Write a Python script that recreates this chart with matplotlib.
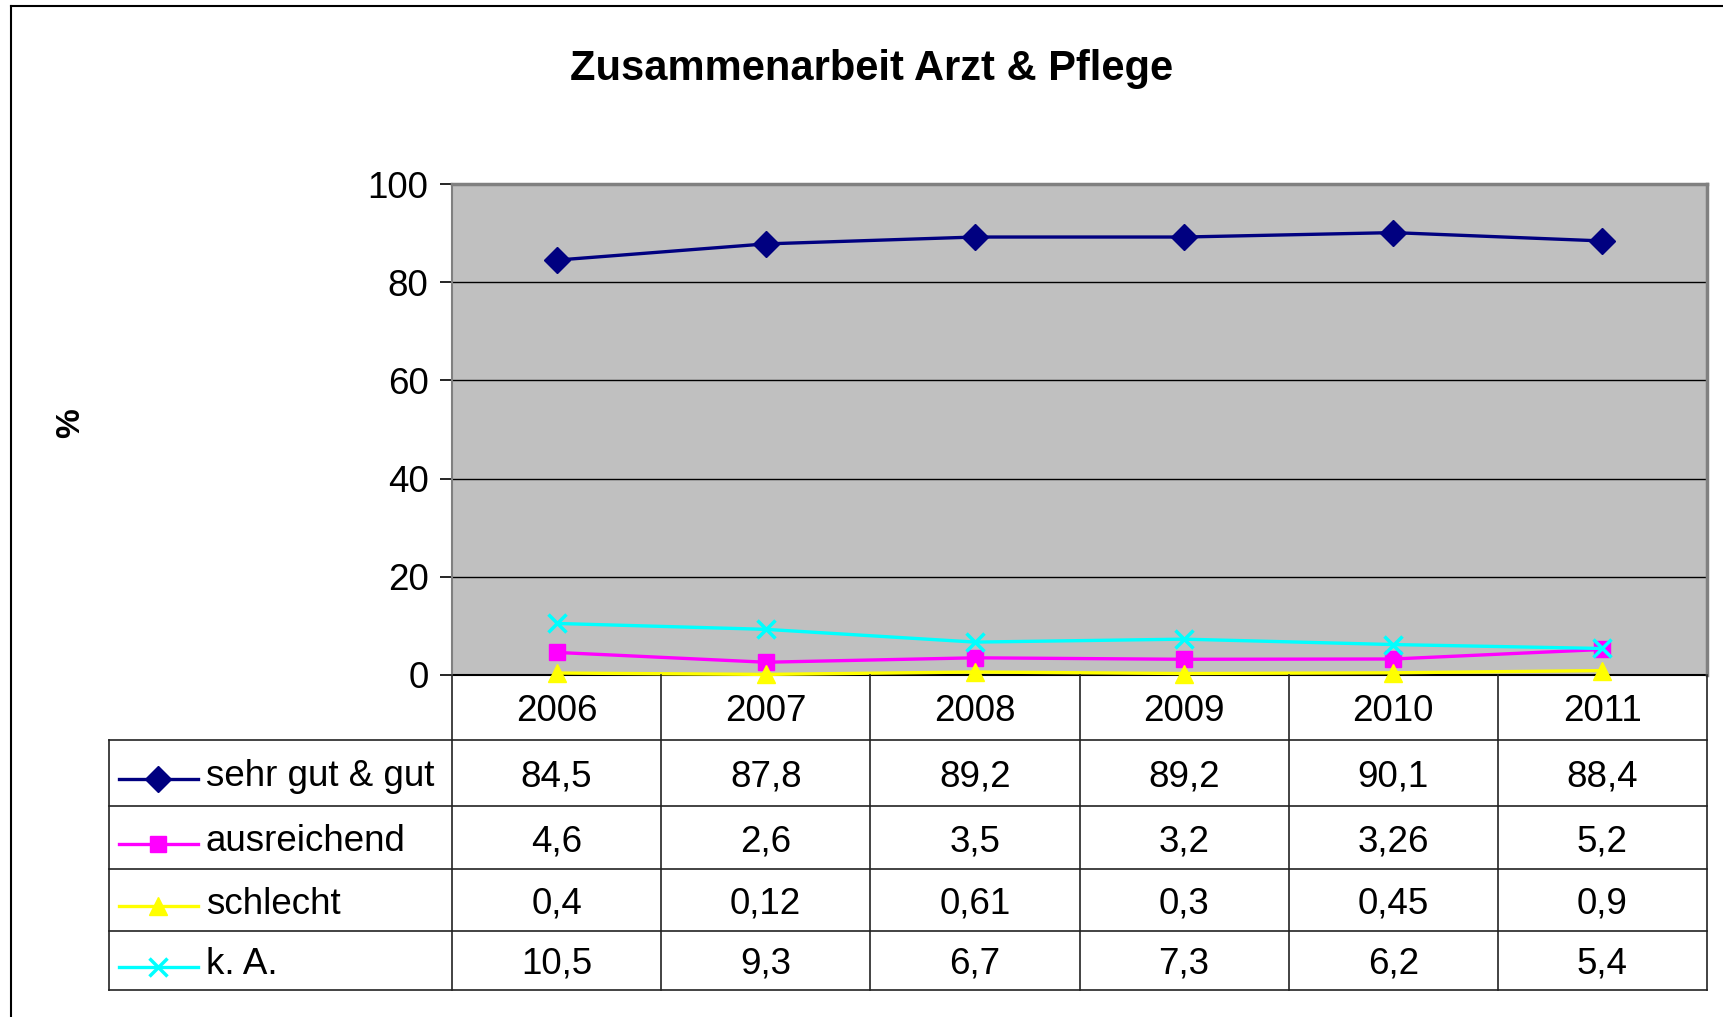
import numpy as np
import matplotlib
matplotlib.use("Agg")
import matplotlib.pyplot as plt
from matplotlib.lines import Line2D

plt.rcParams['font.family'] = ['Liberation Sans', 'DejaVu Sans']

# data
years = ["2006", "2007", "2008", "2009", "2010", "2011"]
series_names = ["sehr gut & gut", "ausreichend", "schlecht", "k. A."]
sehr_gut = [84.5, 87.8, 89.2, 89.2, 90.1, 88.4]
ausreichend = [4.6, 2.6, 3.5, 3.2, 3.26, 5.2]
schlecht = [0.4, 0.12, 0.61, 0.3, 0.45, 0.9]
k_a = [10.5, 9.3, 6.7, 7.3, 6.2, 5.4]
yticks = [0, 20, 40, 60, 80, 100]

series = [sehr_gut, ausreichend, schlecht, k_a]
colors = ["#000080", "#FF00FF", "#FFFF00", "#00FFFF"]
markers = ["D", "s", "^", "x"]
msizes = [13, 11, 13, 13]

W, H = 1724, 1017
fig = plt.figure(figsize=(W / 100, H / 100), dpi=100)


def fbox(x0, y0, x1, y1):
    # pixel box (top-left origin) -> figure fraction rect
    return [x0 / W, 1 - y1 / H, (x1 - x0) / W, (y1 - y0) / H]


# outer chart frame
fig.add_artist(Line2D([11 / W, 11 / W], [0, 1 - 6 / H], color="black", lw=1.5))
fig.add_artist(Line2D([11 / W, 1], [1 - 6 / H, 1 - 6 / H], color="black", lw=1.5))

px_left, px_right, px_top, px_bot = 452, 1707, 184, 675
ax = fig.add_axes(fbox(px_left, px_top, px_right, px_bot))
ax.set_facecolor("#C0C0C0")
x = np.arange(len(years))
for vals, c, m, ms in zip(series, colors, markers, msizes):
    ax.plot(x, vals, color=c, lw=2.4, marker=m, markersize=ms,
            markeredgewidth=2.5 if m == "x" else 1, zorder=3, clip_on=False)
ax.set_xlim(-0.5, len(years) - 0.5)
ax.set_ylim(0, 100)
ax.set_yticks(yticks)
ax.set_yticklabels([str(t) for t in yticks], fontsize=26.5)
ax.set_xticks([])
ax.tick_params(axis="y", direction="out", length=9, width=1.2, pad=8)
ax.grid(axis="y", color="black", lw=1)
ax.set_axisbelow(True)
for s in ["top", "right"]:
    ax.spines[s].set_color("#808080")
    ax.spines[s].set_linewidth(2.5)
ax.spines["left"].set_color("#808080")
ax.spines["left"].set_linewidth(1.5)
ax.spines["bottom"].set_color("black")
ax.spines["bottom"].set_linewidth(1.5)
ax.spines["bottom"].set_zorder(2)

fig.text(872 / W, 1 - 69 / H, "Zusammenarbeit Arzt & Pflege", fontsize=30,
         fontweight="bold", ha="center", va="center")
fig.text(71 / W, 1 - 423 / H, "%", fontsize=24, fontweight="bold",
         rotation=90, ha="center", va="center")

# data table under the plot
tab_left, tab_bot = 109, 990
row_px = [675, 740, 806, 869, 931, 990]
unit = (px_right - px_left) / len(years)
lab_w = (px_left - tab_left) / unit
tax = fig.add_axes(fbox(tab_left, px_bot, px_right, tab_bot))
tax.set_xlim(-0.5 - lab_w, len(years) - 0.5)
tax.set_ylim(tab_bot, px_bot)
tax.axis("off")

lc = "#222222"
for i in range(len(years) + 1):
    tax.plot([i - 0.5, i - 0.5], [row_px[0], row_px[-1]], color=lc, lw=1.2,
             clip_on=False)
tax.plot([-0.5 - lab_w] * 2, [row_px[1], row_px[-1]], color=lc, lw=1.2,
         clip_on=False)
for r in row_px[1:]:
    tax.plot([-0.5 - lab_w, len(years) - 0.5], [r, r], color=lc, lw=1.2,
             clip_on=False)

mid = [(a + b) / 2 for a, b in zip(row_px[:-1], row_px[1:])]
txt_dy = 4
for i, yr in enumerate(years):
    tax.text(i, mid[0] + txt_dy, yr, fontsize=26.5, ha="center", va="center")

for r, (name, vals, c, m, ms) in enumerate(zip(series_names, series, colors,
                                                markers, msizes), start=1):
    lx0 = -0.5 - lab_w + (119 - tab_left) / unit
    lx1 = -0.5 - lab_w + (198 - tab_left) / unit
    ly = mid[r] + txt_dy + 2
    tax.plot([lx0, lx1], [ly, ly], color=c, lw=2.4, clip_on=False)
    tax.plot([(lx0 + lx1) / 2], [ly], color=c, marker=m, markersize=ms,
             markeredgewidth=2.5 if m == "x" else 1, clip_on=False)
    tax.text(-0.5 - lab_w + (206 - tab_left) / unit, mid[r] + txt_dy, name,
             fontsize=26.5, ha="left", va="center")
    for i, v in enumerate(vals):
        tax.text(i, mid[r] + txt_dy, f"{v:g}".replace(".", ","),
                 fontsize=26.5, ha="center", va="center")

fig.savefig("out.png", dpi=100)
